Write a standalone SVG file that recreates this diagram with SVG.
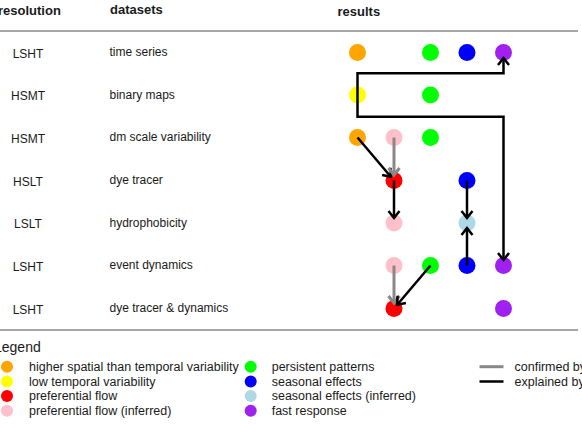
<svg xmlns="http://www.w3.org/2000/svg" width="582" height="424" viewBox="0 0 582 424">
<style>
text{font-family:"Liberation Sans",Arial,sans-serif;fill:#1a1a1a}
.h{font-size:13px;font-weight:bold}
.t{font-size:12px}
.l{font-size:12.5px}
.res{text-anchor:middle}
.sep{stroke:#888;stroke-width:1.5}
.c{stroke:none}
.k{fill:none;stroke:#000;stroke-width:2.5}
.g{fill:none;stroke:#888;stroke-width:3}
.or{fill:#FFA500}.ye{fill:#FFFF00}.re{fill:#FF0000}.pi{fill:#FFC0CB}
.gr{fill:#00FF00}.bl{fill:#0000FF}.lb{fill:#ADD8E6}.pu{fill:#A020F0}
</style>
<defs>
<marker id="ak" markerUnits="userSpaceOnUse" orient="auto" overflow="visible" markerWidth="10" markerHeight="12" refX="0" refY="0">
<path d="M-7,-5.5 L0,0 L-7,5.5" fill="none" stroke="#000" stroke-width="2.5"/>
</marker>
<marker id="ag" markerUnits="userSpaceOnUse" orient="auto" overflow="visible" markerWidth="10" markerHeight="12" refX="0" refY="0">
<path d="M-7,-5.5 L0,0 L-7,5.5" fill="none" stroke="#888" stroke-width="3"/>
</marker>
</defs>
<rect width="582" height="424" fill="#fff"/>
<g id="header">
<text class="h" x="-2" y="15">resolution</text>
<text class="h" x="110" y="14">datasets</text>
<text class="h" x="337.5" y="16">results</text>
<line class="sep" x1="0" y1="31" x2="578" y2="31"/>
<line class="sep" x1="0" y1="330" x2="578" y2="330"/>
</g>
<g id="rows">
<text class="t res" x="28" y="57.5">LSHT</text><text class="t" x="109.5" y="56">time series</text>
<text class="t res" x="28" y="100">HSMT</text><text class="t" x="109.5" y="98.5">binary maps</text>
<text class="t res" x="28" y="142.5">HSMT</text><text class="t" x="109.5" y="141">dm scale variability</text>
<text class="t res" x="28" y="185.5">HSLT</text><text class="t" x="109.5" y="184">dye tracer</text>
<text class="t res" x="28" y="228">LSLT</text><text class="t" x="109.5" y="226.5">hydrophobicity</text>
<text class="t res" x="28" y="270.5">LSHT</text><text class="t" x="109.5" y="269">event dynamics</text>
<text class="t res" x="28" y="313.5">LSHT</text><text class="t" x="109.5" y="312">dye tracer &amp; dynamics</text>
</g>
<g id="n1-orange"><circle class="c or" cx="357.5" cy="52.5" r="8.5"/></g>
<g id="n1-green"><circle class="c gr" cx="430.5" cy="52.5" r="8.5"/></g>
<g id="n1-blue"><circle class="c bl" cx="467" cy="52.5" r="8.5"/></g>
<g id="n1-purple"><circle class="c pu" cx="503.5" cy="52.5" r="8.5"/></g>
<g id="n2-yellow"><circle class="c ye" cx="357.5" cy="95" r="8.5"/></g>
<g id="n2-green"><circle class="c gr" cx="430.5" cy="95" r="8.5"/></g>
<g id="n3-orange"><circle class="c or" cx="357.5" cy="137.5" r="8.5"/></g>
<g id="n3-pink"><circle class="c pi" cx="394" cy="137.5" r="8.5"/></g>
<g id="n3-green"><circle class="c gr" cx="430.5" cy="137.5" r="8.5"/></g>
<g id="n4-red"><circle class="c re" cx="394" cy="180.5" r="8.5"/></g>
<g id="n4-blue"><circle class="c bl" cx="467" cy="180.5" r="8.5"/></g>
<g id="n5-pink"><circle class="c pi" cx="394" cy="223" r="8.5"/></g>
<g id="n5-lightblue"><circle class="c lb" cx="467" cy="223" r="8.5"/></g>
<g id="n6-pink"><circle class="c pi" cx="394" cy="265.5" r="8.5"/></g>
<g id="n6-green"><circle class="c gr" cx="430.5" cy="265.5" r="8.5"/></g>
<g id="n6-blue"><circle class="c bl" cx="467" cy="265.5" r="8.5"/></g>
<g id="n6-purple"><circle class="c pu" cx="503.5" cy="265.5" r="8.5"/></g>
<g id="n7-red"><circle class="c re" cx="394" cy="308.5" r="8.5"/></g>
<g id="n7-purple"><circle class="c pu" cx="503.5" cy="308.5" r="8.5"/></g>
<g id="connectors">
<path class="k" d="M357.5,95 V73.3 H503.5 V58" marker-end="url(#ak)"/>
<path class="k" d="M357.5,95 V116.7 H503.5 V260" marker-end="url(#ak)"/>
<path class="k" d="M357.5,137.5 L390.8,176.7" marker-end="url(#ak)"/>
<path class="g" d="M394,137.5 V175" marker-end="url(#ag)"/>
<path class="k" d="M394,180.5 V218" marker-end="url(#ak)"/>
<path class="k" d="M467,180.5 V218" marker-end="url(#ak)"/>
<path class="k" d="M467,265.5 V228" marker-end="url(#ak)"/>
<path class="g" d="M394,265.5 V303" marker-end="url(#ag)"/>
<path class="k" d="M430.5,265.5 L397.2,304.7" marker-end="url(#ak)"/>
</g>
<g id="legend">
<text x="-6" y="352" style="font-size:14px">Legend</text>
<circle class="or" cx="7" cy="366.7" r="6"/><text class="l" x="29" y="371">higher spatial than temporal variability</text>
<circle class="ye" cx="7" cy="381.5" r="6"/><text class="l" x="29" y="385.8">low temporal variability</text>
<circle class="re" cx="7" cy="396" r="6"/><text class="l" x="29" y="400.3">preferential flow</text>
<circle class="pi" cx="7" cy="410.7" r="6"/><text class="l" x="29" y="415">preferential flow (inferred)</text>
<circle class="gr" cx="250.7" cy="366.7" r="6"/><text class="l" x="271.7" y="371">persistent patterns</text>
<circle class="bl" cx="250.7" cy="381.5" r="6"/><text class="l" x="271.7" y="385.8">seasonal effects</text>
<circle class="lb" cx="250.7" cy="396" r="6"/><text class="l" x="271.7" y="400.3">seasonal effects (inferred)</text>
<circle class="pu" cx="250.7" cy="410.7" r="6"/><text class="l" x="271.7" y="415">fast response</text>
<line x1="479.5" y1="366.7" x2="503.5" y2="366.7" stroke="#888" stroke-width="3"/><text class="l" x="514.5" y="371">confirmed by</text>
<line x1="479.5" y1="381.5" x2="503.5" y2="381.5" stroke="#000" stroke-width="2.5"/><text class="l" x="514.5" y="385.8">explained by</text>
</g>
</svg>
